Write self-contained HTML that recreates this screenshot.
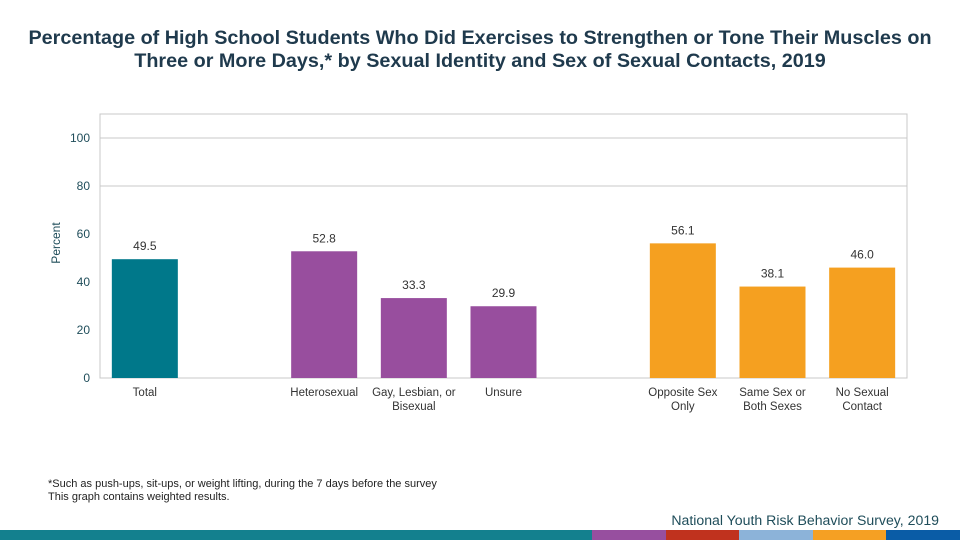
<!DOCTYPE html>
<html><head><meta charset="utf-8"><style>
body{margin:0;width:960px;height:540px;background:#fff;font-family:"Liberation Sans",sans-serif;overflow:hidden;position:relative}
.t{position:absolute;left:0;width:960px;text-align:center;top:27px;font-weight:bold;font-size:19.8px;line-height:23px;color:#1f3a4d;white-space:nowrap}
</style></head><body>
<div class="t">Percentage of High School Students Who Did Exercises to Strengthen or Tone Their Muscles on<br>Three or More Days,* by Sexual Identity and Sex of Sexual Contacts, 2019</div>
<svg width="960" height="540" style="position:absolute;left:0;top:0" font-family="Liberation Sans, sans-serif">
<g id="chart"></g>
<text x="60" y="243" transform="rotate(-90 60 243)" text-anchor="middle" font-size="12" fill="#1f4d5a">Percent</text>
<text x="48" y="487" font-size="11" fill="#222">*Such as push-ups, sit-ups, or weight lifting, during the 7 days before the survey</text>
<text x="48" y="500" font-size="11" fill="#222">This graph contains weighted results.</text>
<text x="939" y="525" text-anchor="end" font-size="14.1" fill="#1f4d5a">National Youth Risk Behavior Survey, 2019</text>
<rect x="0" y="530" width="592" height="10" fill="#13808e"/>
<rect x="592" y="530" width="74" height="10" fill="#974f9f"/>
<rect x="666" y="530" width="73" height="10" fill="#c0321e"/>
<rect x="739" y="530" width="74" height="10" fill="#8cb3d9"/>
<rect x="813" y="530" width="73" height="10" fill="#f5a023"/>
<rect x="886" y="530" width="74" height="10" fill="#0a5ca6"/>
</svg>
<script>
const categories=["Total","","Heterosexual","Gay, Lesbian, or|Bisexual","Unsure","","Opposite Sex|Only","Same Sex or|Both Sexes","No Sexual|Contact"];
const values=[49.5,null,52.8,33.3,29.9,null,56.1,38.1,46.0];
const colors=["#00788a",null,"#984e9e","#984e9e","#984e9e",null,"#f5a020","#f5a020","#f5a020"];
const yTicks=[0,20,40,60,80,100];
const gridTicks=[80,100];
const ns="http://www.w3.org/2000/svg";
const g=document.getElementById('chart');
const L=100,R=907,T=114,B=378;
const y=v=>B-v*2.4;
const slot=(R-L)/categories.length;
const x=i=>L+slot*(i+0.5);
function mk(t,a){const e=document.createElementNS(ns,t);for(const k in a)e.setAttribute(k,a[k]);g.appendChild(e);return e;}
const frame=mk('rect',{x:L,y:T,width:R-L,height:B-T,fill:'none',stroke:'#c8c8c8'});


gridTicks.forEach(v=>{
 const ln=mk('line',{x1:L,x2:R,y1:y(v),y2:y(v),stroke:'#c8c8c8'});
 
 
});
yTicks.forEach(v=>{
 const t=mk('text',{x:90,y:y(v)+4,'text-anchor':'end','font-size':12,fill:'#1f4d5a'});
 t.textContent=v;
 
 
});
categories.forEach((c,i)=>{
 if(values[i]==null)return;
 const v=values[i],cx=x(i);
 const r=mk('rect',{x:cx-33,y:y(v),width:66,height:B-y(v),fill:colors[i]});
 
 
 const lb=mk('text',{x:cx,y:y(v)-9,'text-anchor':'middle','font-size':12,fill:'#333'});
 lb.textContent=v.toFixed(1);
 
 
 c.split('|').forEach((s,j)=>{
  const t=mk('text',{x:cx,y:396+j*14,'text-anchor':'middle','font-size':11.5,fill:'#333'});
  t.textContent=s;
  
  
 });
});
</script>
</body></html>
